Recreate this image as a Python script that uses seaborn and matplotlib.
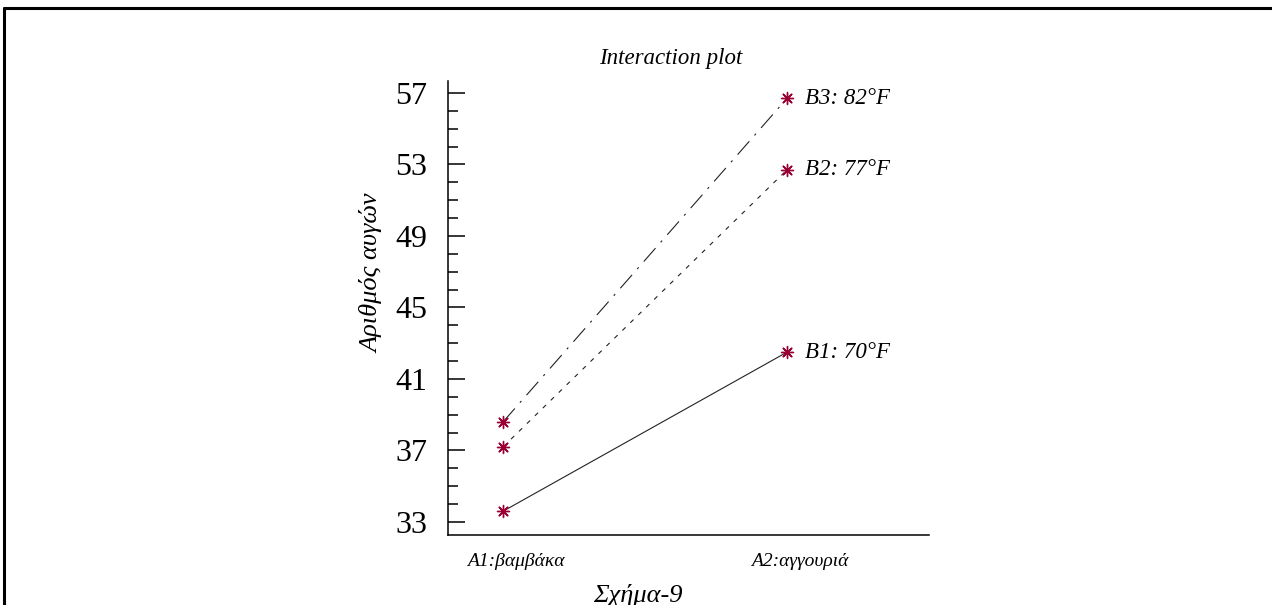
import matplotlib
matplotlib.use('Agg')
import matplotlib.pyplot as plt
import matplotlib.ticker as mticker
from matplotlib.lines import Line2D
import seaborn as sns
import pandas as pd

# Data
factor_a = ['A1:βαμβάκα', 'A2:αγγουριά']
groups = ['B1: 70°F', 'B2: 77°F', 'B3: 82°F']
b1_values = [33.6, 42.5]
b2_values = [37.2, 52.7]
b3_values = [38.6, 56.7]
y_ticks = [33, 37, 41, 45, 49, 53, 57]

rows = []
for g, vals in zip(groups, [b1_values, b2_values, b3_values]):
    for i, v in enumerate(vals):
        rows.append({'pos': i, 'A': factor_a[i], 'group': g, 'eggs': v})
df = pd.DataFrame(rows)

sns.set_theme(style='white')
plt.rcParams['font.family'] = ['Liberation Serif', 'DejaVu Serif']
plt.rcParams['text.color'] = 'black'
plt.rcParams['xtick.color'] = 'black'
plt.rcParams['ytick.color'] = 'black'

fig = plt.figure(figsize=(12.72, 6.05), dpi=100)
ax = fig.add_axes([0.3522, 0.1157, 0.3781, 0.7504])

dash_map = {groups[0]: '', groups[1]: (4, 6), groups[2]: (16, 7, 2, 7)}
sns.lineplot(data=df, x='pos', y='eggs', style='group', dashes=dash_map,
             color='#222222', linewidth=0.8, legend=False, ax=ax, zorder=2)
sns.scatterplot(data=df, x='pos', y='eggs', marker=(8, 2, 0), color='#990033',
                edgecolor='#990033', s=75, linewidth=1.0, legend=False, ax=ax, zorder=3)

# series labels next to the right-hand points
right = df[df['pos'] == 1]
for _, r in right.iterrows():
    ax.annotate(r['group'], (r['pos'], r['eggs']), xytext=(13, 0),
                textcoords='offset points', va='center', ha='left',
                fontsize=16.5, style='italic')

ax.set_xlim(-0.194, 1.5)
ax.set_ylim(32.27, 57.67)
ax.set_xticks([0, 1])
ax.set_xticklabels([])
# category labels sit a little right of their points, as in the original
for i, name in enumerate(factor_a):
    ax.annotate(name, (i, 0), xycoords=('data', 'axes fraction'),
                xytext=(9, -19), textcoords='offset points',
                ha='center', va='center', fontsize=14, style='italic')
ax.set_yticks(y_ticks)
ax.yaxis.set_minor_locator(mticker.FixedLocator(range(33, 58)))
ax.tick_params(axis='y', which='major', direction='in', length=12, width=1.1,
               pad=15, labelsize=23, left=True)
ax.tick_params(axis='y', which='minor', direction='in', length=7, width=1.1, left=True)
ax.tick_params(axis='x', length=0)
ax.set_xlabel('')
ax.set_ylabel('')
sns.despine(ax=ax)
for side in ['left', 'bottom']:
    ax.spines[side].set_color('black')
    ax.spines[side].set_linewidth(1.1)

fig.text(0.527, 0.904, 'Interaction plot', ha='center', va='center',
         fontsize=16.5, style='italic')
fig.text(0.2925, 0.549, 'Αριθμός αυγών', rotation=90, ha='center', va='center',
         fontsize=19, style='italic')
fig.text(0.5016, 0.0165, 'Σχήμα-9', ha='center', va='center',
         fontsize=19, style='italic')

# page frame (top and left edge)
fig.add_artist(Line2D([0.0035, 0.0035], [0.0, 0.987], transform=fig.transFigure,
                      color='black', linewidth=2.2))
fig.add_artist(Line2D([0.0035, 1.0], [0.987, 0.987], transform=fig.transFigure,
                      color='black', linewidth=2.2))

fig.savefig('out.png', dpi=100)
